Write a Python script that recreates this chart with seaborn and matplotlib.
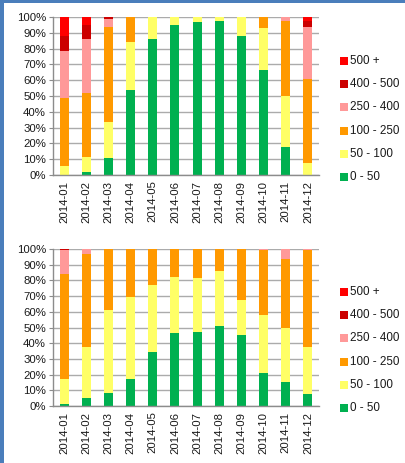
import numpy as np
import pandas as pd
import matplotlib
matplotlib.use("Agg")
import matplotlib.pyplot as plt
from matplotlib.patches import Rectangle
from matplotlib.ticker import FuncFormatter, FixedLocator
import seaborn as sns

months = ["2014-01", "2014-02", "2014-03", "2014-04", "2014-05", "2014-06",
          "2014-07", "2014-08", "2014-09", "2014-10", "2014-11", "2014-12"]
ranges = ["0 - 50", "50 - 100", "100 - 250", "250 - 400", "400 - 500", "500 +"]
colors = ["#00B050", "#FFFF66", "#FF9900", "#FF9999", "#CC0000", "#FF0000"]

# top chart (% share per range)
top_0_50    = [0.0, 1.7, 11.0, 54.1, 85.8, 94.7, 96.6, 97.3, 87.7, 66.2, 18.0, 0.0]
top_50_100  = [5.7, 9.7, 22.8, 29.8, 14.0, 5.3, 3.4, 2.7, 12.3, 27.0, 31.9, 7.6]
top_100_250 = [43.3, 40.2, 59.6, 16.1, 0.2, 0.0, 0.0, 0.0, 0.0, 6.8, 47.6, 52.9]
top_250_400 = [29.6, 34.2, 5.5, 0.0, 0.0, 0.0, 0.0, 0.0, 0.0, 0.0, 2.5, 32.9]
top_400_500 = [9.5, 8.9, 1.1, 0.0, 0.0, 0.0, 0.0, 0.0, 0.0, 0.0, 0.0, 3.9]
top_500p    = [11.9, 5.3, 0.0, 0.0, 0.0, 0.0, 0.0, 0.0, 0.0, 0.0, 0.0, 2.7]

# bottom chart
bot_0_50    = [1.5, 5.3, 8.5, 17.4, 34.5, 46.2, 47.0, 51.0, 45.1, 20.8, 15.1, 7.8]
bot_50_100  = [15.8, 32.0, 52.9, 52.1, 42.6, 35.8, 34.8, 35.0, 22.1, 37.3, 34.5, 29.5]
bot_100_250 = [66.7, 59.5, 38.6, 30.5, 22.9, 18.0, 18.2, 14.0, 32.8, 41.3, 44.0, 62.1]
bot_250_400 = [15.6, 3.2, 0.0, 0.0, 0.0, 0.0, 0.0, 0.0, 0.0, 0.6, 6.4, 0.6]
bot_400_500 = [0.4, 0.0, 0.0, 0.0, 0.0, 0.0, 0.0, 0.0, 0.0, 0.0, 0.0, 0.0]
bot_500p    = [0.0, 0.0, 0.0, 0.0, 0.0, 0.0, 0.0, 0.0, 0.0, 0.0, 0.0, 0.0]

top_series = [top_0_50, top_50_100, top_100_250, top_250_400, top_400_500, top_500p]
bot_series = [bot_0_50, bot_50_100, bot_100_250, bot_250_400, bot_400_500, bot_500p]

sns.set_style("white")
plt.rcParams["font.family"] = ["Liberation Sans", "DejaVu Sans"]

W, H = 405, 463
fig = plt.figure(figsize=(W / 100, H / 100), dpi=100)
fig.patch.set_facecolor("white")

def make_df(series):
    rows = []
    for r, vals in zip(ranges, series):
        for m, v in zip(months, vals):
            rows.append({"month": m, "range": r, "value": v})
    return pd.DataFrame(rows)

def draw(ax, series, legend_top_px):
    df = make_df(series)
    df["pos"] = df["month"].map({m: i for i, m in enumerate(months)})
    # stacked bars, bottom to top in range order
    bottoms = np.zeros(len(months))
    for r, c in zip(ranges, colors):
        sub = df[df["range"] == r].sort_values("pos")
        sns.barplot(x=sub["pos"].values, y=sub["value"].values, color=c,
                    width=0.41, ax=ax, native_scale=True, linewidth=0,
                    bottom=bottoms, saturation=1)
        bottoms = bottoms + sub["value"].values
    ax.set_xlim(-0.5, len(months) - 0.5)
    ax.set_ylim(0, 100)
    ax.set_yticks(np.arange(0, 101, 10))
    ax.yaxis.set_major_formatter(FuncFormatter(lambda v, p: f"{v:.0f}%"))
    ax.yaxis.grid(True, color="#ABABAB", linewidth=1)
    ax.set_axisbelow(True)
    ax.set_xticks(range(len(months)))
    ax.set_xticklabels(months, rotation=90, fontsize=8.2, color="#1a1a1a")
    ax.tick_params(axis="x", which="major", length=0, pad=4)
    ax.xaxis.set_minor_locator(FixedLocator(np.arange(-0.5, len(months), 1)))
    ax.tick_params(axis="x", which="minor", length=4, color="#8C8C8C", width=1)
    ax.tick_params(axis="y", length=3, color="#8C8C8C", labelsize=8.2,
                   labelcolor="#1a1a1a", left=True, pad=2)
    for s in ["top", "right"]:
        ax.spines[s].set_visible(False)
    for s in ["left", "bottom"]:
        ax.spines[s].set_color("#8C8C8C")
        ax.spines[s].set_linewidth(1)
    ax.set_xlabel("")
    ax.set_ylabel("")
    # legend (reverse order, 500 + on top)
    y0 = legend_top_px
    for i, (r, c) in enumerate(reversed(list(zip(ranges, colors)))):
        yc = y0 + i * 23.2
        fig.patches.append(Rectangle((340 / W, 1 - (yc + 4) / H), 8 / W, 8 / H,
                                     transform=fig.transFigure, facecolor=c,
                                     edgecolor="none"))
        fig.text(350 / W, 1 - yc / H, r, fontsize=8.4, va="center", ha="left",
                 color="#1a1a1a")

ax1 = fig.add_axes([53 / W, (H - 175) / H, 266 / W, 158 / H])
draw(ax1, top_series, 61)
ax2 = fig.add_axes([53 / W, (H - 406) / H, 266 / W, 157 / H])
draw(ax2, bot_series, 292)

# blue frame strips
blue = "#4A7EBB"
fig.patches.append(Rectangle((0, 0), 4 / W, 1, transform=fig.transFigure,
                             facecolor=blue, edgecolor="none"))
fig.patches.append(Rectangle((0, 1 - 3 / H), 1, 3 / H, transform=fig.transFigure,
                             facecolor=blue, edgecolor="none"))

fig.savefig("out.png", dpi=100, facecolor="white")
